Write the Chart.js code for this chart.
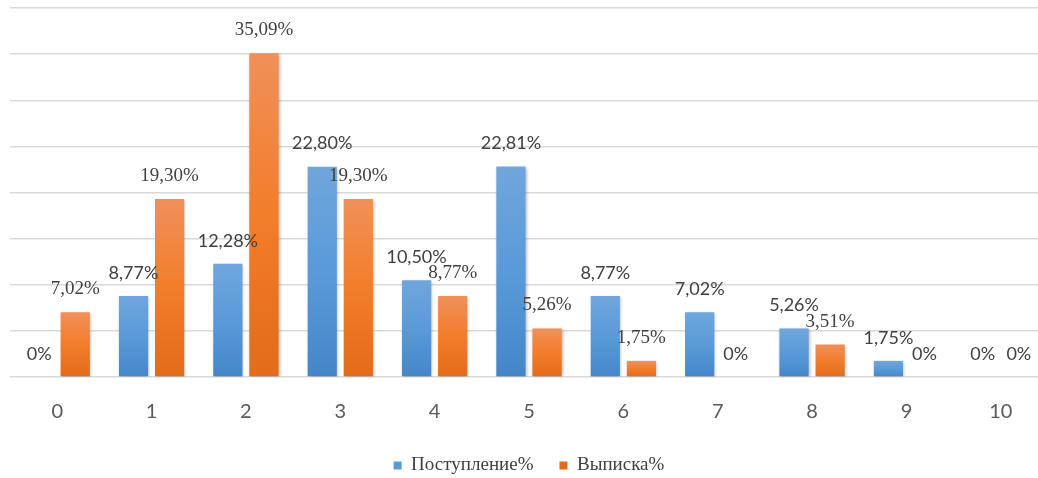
<!DOCTYPE html>
<html>
<head>
<meta charset="utf-8">
<script src="https://cdn.jsdelivr.net/npm/chart.js@4"></script>
<style>
  html, body { margin:0; padding:0; background:#fff; overflow:hidden; }
  #wrap { width:1058px; height:478px; }
</style>
</head>
<body>
<div id="wrap"><canvas id="chart"></canvas></div>
<script>
// данные
const categories = ["0","1","2","3","4","5","6","7","8","9","10"];
const postuplenie = [0, 8.77, 12.28, 22.80, 10.50, 22.81, 8.77, 7.02, 5.26, 1.75, 0];
const vypiska = [7.02, 19.30, 35.09, 19.30, 8.77, 5.26, 1.75, 0, 3.51, 0, 0];
const yTicks = [0, 5, 10, 15, 20, 25, 30, 35, 40];

const fmt = v => v === 0 ? "0%" : v.toFixed(2).replace(".", ",") + "%";

// градиент по высоте каждого столбца
function barGradient(stops) {
    return ctx => {
        const chart = ctx.chart;
        const y = chart.scales.y;
        if (!chart.chartArea || !y || ctx.raw === undefined) return stops[1];
        const top = y.getPixelForValue(ctx.raw);
        const bottom = y.getPixelForValue(0);
        if (bottom - top < 1) return stops[1];
        const g = chart.ctx.createLinearGradient(0, top, 0, bottom);
        g.addColorStop(0, stops[0]);
        g.addColorStop(0.5, stops[1]);
        g.addColorStop(1, stops[2]);
        return g;
    };
}

// подписи значений над столбцами
const valueLabels = {
    id: "valueLabels",
    afterDatasetsDraw(chart) {
        const c = chart.ctx;
        c.save();
        c.textAlign = "center";
        c.textBaseline = "middle";
        c.fillStyle = "#404040";
        chart.data.datasets.forEach((ds, di) => {
            chart.getDatasetMeta(di).data.forEach((bar, i) => {
                const v = ds.data[i];
                const serif = di === 1 && v > 0;
                c.font = serif ? '19px "Liberation Serif"' : '18px Lato';
                c.fillText(fmt(v), bar.x, bar.y - 23);
            });
        });
        c.restore();
    }
};

// лёгкая тень у столбцов
const barShadow = {
    id: "barShadow",
    beforeDatasetsDraw(chart) {
        const c = chart.ctx;
        c.save();
        c.shadowColor = "rgba(0,0,0,0.28)";
        c.shadowBlur = 3;
        c.shadowOffsetX = 1;
        c.shadowOffsetY = 1;
    },
    afterDatasetsDraw(chart) {
        chart.ctx.restore();
    }
};

new Chart(document.getElementById("chart"), {
    type: "bar",
    data: {
        labels: categories,
        datasets: [
            {
                label: "Поступление%",
                data: postuplenie,
                backgroundColor: barGradient(["#70a6dc", "#5a9ad8", "#4486c8"]),
                categoryPercentage: 0.765,
                barPercentage: 0.81
            },
            {
                label: "Выписка%",
                data: vypiska,
                backgroundColor: barGradient(["#f0905a", "#f27d2a", "#e36b1a"]),
                categoryPercentage: 0.765,
                barPercentage: 0.81
            }
        ]
    },
    options: {
        responsive: true,
        maintainAspectRatio: false,
        animation: false,
        layout: { padding: { left: 10, right: 10, top: 8, bottom: 0 } },
        plugins: {
            legend: {
                position: "bottom",
                maxHeight: 48,
                labels: {
                    boxWidth: 8,
                    boxHeight: 8,
                    padding: 26,
                    color: "#404040",
                    font: { family: '"Liberation Serif"', size: 19 }
                }
            },
            tooltip: { enabled: false }
        },
        scales: {
            x: {
                grid: { display: false, drawTicks: false },
                border: { display: false },
                ticks: {
                    color: "#595959",
                    padding: 23,
                    font: { family: "Lato", size: 20 }
                },
                afterFit: axis => { axis.height = 53; }
            },
            y: {
                min: yTicks[0],
                max: yTicks[yTicks.length - 1],
                afterBuildTicks: axis => { axis.ticks = yTicks.map(v => ({ value: v })); },
                ticks: { display: false },
                border: { display: false },
                grid: { color: "#d9d9d9", lineWidth: 1.5, drawTicks: false }
            }
        }
    },
    plugins: [barShadow, valueLabels]
});
</script>
</body>
</html>
